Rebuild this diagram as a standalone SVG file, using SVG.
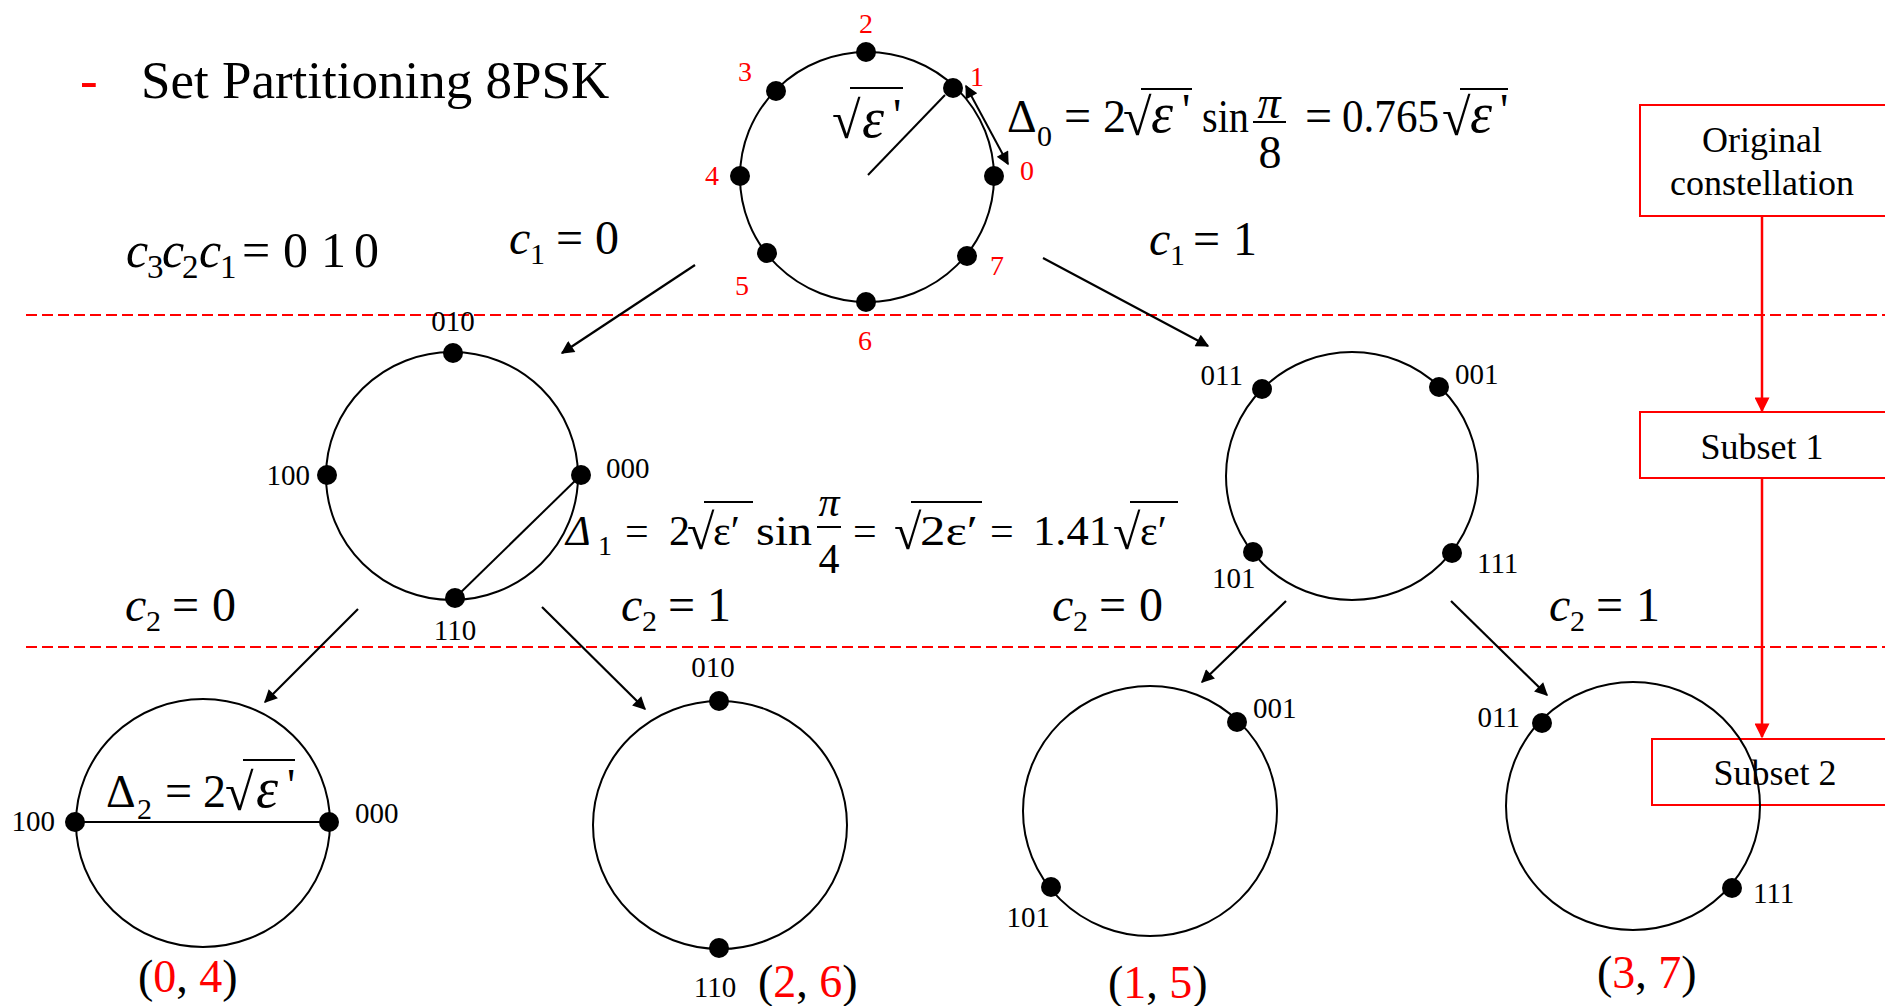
<svg xmlns="http://www.w3.org/2000/svg" width="1885" height="1006" viewBox="0 0 1885 1006">
<style>
text{font-family:"Liberation Serif","Times New Roman",serif;fill:#000}
.red{fill:#ff0000}
.lbl{font-size:29px}
.num{font-size:28px;fill:#ff0000;text-anchor:middle}
.m{font-size:46px}
.c{font-size:48px}
.m1{font-size:42px}
.sub{font-size:30px}
.it{font-style:italic}
.eps{font-size:56px;font-style:italic}
.pr{font-size:46px;font-style:normal}
.rad{font-size:52px}
.circ{fill:none;stroke:#000;stroke-width:2}
.dot{fill:#000}
.ln{stroke:#000;stroke-width:2;fill:none}
.conn{stroke:#000;stroke-width:2.2;fill:none;marker-end:url(#ah)}
.dash{stroke:#ff0000;stroke-width:2;stroke-dasharray:11 5;fill:none}
.box{fill:none;stroke:#ff0000;stroke-width:2}
.rconn{stroke:#ff0000;stroke-width:2.5;fill:none;marker-end:url(#rah)}
.bx{font-size:36px;text-anchor:middle}
.pair{font-size:46px}
</style>
<defs>
<marker id="ah" viewBox="0 0 10 10" refX="9" refY="5" markerUnits="userSpaceOnUse" markerWidth="18" markerHeight="13" orient="auto-start-reverse">
<path d="M0,0 L10,5 L0,10 z" fill="#000"/>
</marker>
<marker id="rah" viewBox="0 0 10 10" refX="9" refY="5" markerUnits="userSpaceOnUse" markerWidth="16" markerHeight="15" orient="auto">
<path d="M0,0 L10,5 L0,10 z" fill="#ff0000"/>
</marker>
</defs>
<rect width="1885" height="1006" fill="#fff"/>

<g id="title">
<text x="80" y="98" class="red" style="font-size:53px">-</text>
<text x="141" y="98" style="font-size:53px">Set Partitioning 8PSK</text>
</g>

<g id="dashed-lines">
<line class="dash" x1="26" y1="315" x2="1885" y2="315"/>
<line class="dash" x1="26" y1="647" x2="1885" y2="647"/>
</g>

<g id="right-panel">
<rect id="box-original" class="box" x="1640" y="105" width="260" height="111"/>
<text class="bx" x="1762" y="152">Original</text>
<text class="bx" x="1762" y="195">constellation</text>
<rect id="box-subset1" class="box" x="1640" y="412" width="260" height="66"/>
<text class="bx" x="1762" y="459">Subset 1</text>
<rect id="box-subset2" class="box" x="1652" y="739" width="250" height="66"/>
<text class="bx" x="1775" y="785">Subset 2</text>
<line class="rconn" x1="1762" y1="216" x2="1762" y2="411"/>
<line class="rconn" x1="1762" y1="478" x2="1762" y2="737"/>
</g>

<g id="node-8psk">
<ellipse class="circ" cx="867" cy="177" rx="127" ry="125"/>
<line class="ln" x1="868" y1="175" x2="945" y2="95"/>
<circle class="dot" cx="994" cy="176" r="10"/>
<circle class="dot" cx="953" cy="88" r="10"/>
<circle class="dot" cx="866" cy="52" r="10"/>
<circle class="dot" cx="776" cy="91" r="10"/>
<circle class="dot" cx="740" cy="176" r="10"/>
<circle class="dot" cx="767" cy="253" r="10"/>
<circle class="dot" cx="866" cy="302" r="10"/>
<circle class="dot" cx="967" cy="256" r="10"/>
<text class="num" x="1027" y="180">0</text>
<text class="num" x="977" y="86">1</text>
<text class="num" x="866" y="33">2</text>
<text class="num" x="745" y="81">3</text>
<text class="num" x="712" y="185">4</text>
<text class="num" x="742" y="295">5</text>
<text class="num" x="865" y="350">6</text>
<text class="num" x="997" y="275">7</text>
<text class="rad" x="832" y="138">√</text>
<line class="ln" x1="850" y1="88" x2="903" y2="88"/>
<text class="eps" x="862" y="137">ε<tspan class="pr" x="893" dy="-6">'</tspan></text>
<line class="ln" x1="966" y1="86" x2="1008" y2="164" style="marker-start:url(#ah);marker-end:url(#ah)"/>
</g>

<g id="formula-d0">
<text class="m" x="1007" y="132">Δ</text>
<text class="sub" x="1037" y="146">0</text>
<text class="c" x="1064" y="132">=</text>
<text class="m" x="1103" y="132">2</text>
<text class="rad" x="1123" y="135">√</text>
<line class="ln" x1="1141" y1="89" x2="1192" y2="89"/>
<text class="eps" x="1151" y="132">ε<tspan class="pr" x="1182" dy="-6">'</tspan></text>
<text class="m" x="1202" y="132" textLength="47" lengthAdjust="spacingAndGlyphs">sin</text>
<text class="m it" x="1269" y="118" text-anchor="middle">π</text>
<line class="ln" x1="1253" y1="122" x2="1286" y2="122"/>
<text class="m" x="1270" y="168" text-anchor="middle">8</text>
<text class="c" x="1305" y="132">=</text>
<text class="m" x="1342" y="132" textLength="97" lengthAdjust="spacingAndGlyphs">0.765</text>
<text class="rad" x="1442" y="135">√</text>
<line class="ln" x1="1460" y1="89" x2="1508" y2="89"/>
<text class="eps" x="1470" y="132">ε<tspan class="pr" x="1500" dy="-6">'</tspan></text>
</g>

<g id="labels-c">
<text style="font-size:50px" y="267"><tspan class="it" x="126">c</tspan><tspan x="147" dy="11" style="font-size:33px">3</tspan><tspan class="it" x="162" dy="-11">c</tspan><tspan x="182" dy="11" style="font-size:33px">2</tspan><tspan class="it" x="199" dy="-11">c</tspan><tspan x="220" dy="11" style="font-size:33px">1</tspan><tspan x="242" dy="-11">=</tspan><tspan x="283">0</tspan><tspan x="321">1</tspan><tspan x="354">0</tspan></text>
<text class="c" y="254"><tspan class="it" x="509">c</tspan><tspan class="sub" x="530" dy="10">1</tspan><tspan x="556" dy="-10">=</tspan><tspan x="595">0</tspan></text>
<text class="c" y="255"><tspan class="it" x="1149">c</tspan><tspan class="sub" x="1170" dy="10">1</tspan><tspan x="1193" dy="-10">=</tspan><tspan x="1233">1</tspan></text>
<text class="c" y="621"><tspan class="it" x="125">c</tspan><tspan class="sub" x="146" dy="10">2</tspan><tspan x="172" dy="-10">=</tspan><tspan x="212">0</tspan></text>
<text class="c" y="621"><tspan class="it" x="621">c</tspan><tspan class="sub" x="642" dy="10">2</tspan><tspan x="668" dy="-10">=</tspan><tspan x="707">1</tspan></text>
<text class="c" y="621"><tspan class="it" x="1052">c</tspan><tspan class="sub" x="1073" dy="10">2</tspan><tspan x="1099" dy="-10">=</tspan><tspan x="1139">0</tspan></text>
<text class="c" y="621"><tspan class="it" x="1549">c</tspan><tspan class="sub" x="1570" dy="10">2</tspan><tspan x="1596" dy="-10">=</tspan><tspan x="1636">1</tspan></text>
</g>

<g id="node-subset-c1-0">
<ellipse class="circ" cx="452" cy="476" rx="126" ry="124"/>
<line class="ln" x1="580" y1="476" x2="456" y2="597"/>
<circle class="dot" cx="453" cy="353" r="10"/>
<circle class="dot" cx="327" cy="475" r="10"/>
<circle class="dot" cx="581" cy="475" r="10"/>
<circle class="dot" cx="455" cy="598" r="10"/>
<text class="lbl" x="453" y="331" text-anchor="middle">010</text>
<text class="lbl" x="310" y="485" text-anchor="end">100</text>
<text class="lbl" x="606" y="478">000</text>
<text class="lbl" x="455" y="640" text-anchor="middle">110</text>
</g>

<g id="formula-d1">
<text class="m1 it" x="566" y="545">Δ</text>
<text class="sub" x="598" y="555" style="font-size:28px">1</text>
<text class="m1" x="625" y="545">=</text>
<text class="m1" x="669" y="545">2</text>
<text class="rad" x="687" y="549" style="font-size:50px">√</text>
<line class="ln" x1="704" y1="502" x2="753" y2="502"/>
<text class="m1" x="713" y="545">ε′</text>
<text class="m1" x="756" y="545" textLength="56" lengthAdjust="spacingAndGlyphs">sin</text>
<text class="m1 it" x="829" y="516" text-anchor="middle">π</text>
<line class="ln" x1="817" y1="527" x2="841" y2="527"/>
<text class="m1" x="829" y="573" text-anchor="middle">4</text>
<text class="m1" x="853" y="545">=</text>
<text class="rad" x="894" y="549" style="font-size:50px">√</text>
<line class="ln" x1="911" y1="502" x2="982" y2="502"/>
<text class="m1" x="920" y="545" textLength="58" lengthAdjust="spacingAndGlyphs">2ε′</text>
<text class="m1" x="990" y="545">=</text>
<text class="m1" x="1033" y="545" textLength="78" lengthAdjust="spacingAndGlyphs">1.41</text>
<text class="rad" x="1113" y="549" style="font-size:50px">√</text>
<line class="ln" x1="1130" y1="502" x2="1178" y2="502"/>
<text class="m1" x="1140" y="545">ε′</text>
</g>

<g id="node-subset-c1-1">
<ellipse class="circ" cx="1352" cy="476" rx="126" ry="124"/>
<circle class="dot" cx="1262" cy="389" r="10"/>
<circle class="dot" cx="1439" cy="387" r="10"/>
<circle class="dot" cx="1253" cy="552" r="10"/>
<circle class="dot" cx="1452" cy="553" r="10"/>
<text class="lbl" x="1243" y="385" text-anchor="end">011</text>
<text class="lbl" x="1455" y="384">001</text>
<text class="lbl" x="1212" y="588">101</text>
<text class="lbl" x="1477" y="573">111</text>
</g>

<g id="node-04">
<ellipse class="circ" cx="203" cy="823" rx="127" ry="124"/>
<line class="ln" x1="75" y1="822" x2="329" y2="822"/>
<circle class="dot" cx="75" cy="822" r="10"/>
<circle class="dot" cx="329" cy="822" r="10"/>
<text class="lbl" x="55" y="831" text-anchor="end">100</text>
<text class="lbl" x="355" y="823">000</text>
<text class="pair" x="138" y="992">(<tspan class="red">0</tspan>, <tspan class="red">4</tspan>)</text>
<text class="m" x="106" y="807">Δ</text>
<text class="sub" x="137" y="819">2</text>
<text class="c" x="165" y="807">=</text>
<text class="m" x="203" y="807">2</text>
<text class="rad" x="225" y="810">√</text>
<line class="ln" x1="243" y1="760" x2="295" y2="760"/>
<text class="eps" x="256" y="807">ε<tspan class="pr" x="287" dy="-6">'</tspan></text>
</g>

<g id="node-26">
<ellipse class="circ" cx="720" cy="825" rx="127" ry="124"/>
<circle class="dot" cx="719" cy="701" r="10"/>
<circle class="dot" cx="719" cy="948" r="10"/>
<text class="lbl" x="713" y="677" text-anchor="middle">010</text>
<text class="lbl" x="715" y="997" text-anchor="middle">110</text>
<text class="pair" x="758" y="997">(<tspan class="red">2</tspan>, <tspan class="red">6</tspan>)</text>
</g>

<g id="node-15">
<ellipse class="circ" cx="1150" cy="811" rx="127" ry="125"/>
<circle class="dot" cx="1237" cy="722" r="10"/>
<circle class="dot" cx="1051" cy="887" r="10"/>
<text class="lbl" x="1253" y="718">001</text>
<text class="lbl" x="1050" y="927" text-anchor="end">101</text>
<text class="pair" x="1108" y="998">(<tspan class="red">1</tspan>, <tspan class="red">5</tspan>)</text>
</g>

<g id="node-37">
<ellipse class="circ" cx="1633" cy="806" rx="127" ry="124"/>
<circle class="dot" cx="1542" cy="723" r="10"/>
<circle class="dot" cx="1732" cy="888" r="10"/>
<text class="lbl" x="1520" y="727" text-anchor="end">011</text>
<text class="lbl" x="1753" y="903">111</text>
<text class="pair" x="1597" y="988">(<tspan class="red">3</tspan>, <tspan class="red">7</tspan>)</text>
</g>

<g id="connectors">
<line class="conn" x1="695" y1="265" x2="562" y2="353"/>
<line class="conn" x1="1043" y1="258" x2="1208" y2="346"/>
<line class="conn" x1="358" y1="609" x2="265" y2="702"/>
<line class="conn" x1="542" y1="607" x2="645" y2="709"/>
<line class="conn" x1="1286" y1="601" x2="1202" y2="682"/>
<line class="conn" x1="1451" y1="601" x2="1547" y2="695"/>
</g>
</svg>
